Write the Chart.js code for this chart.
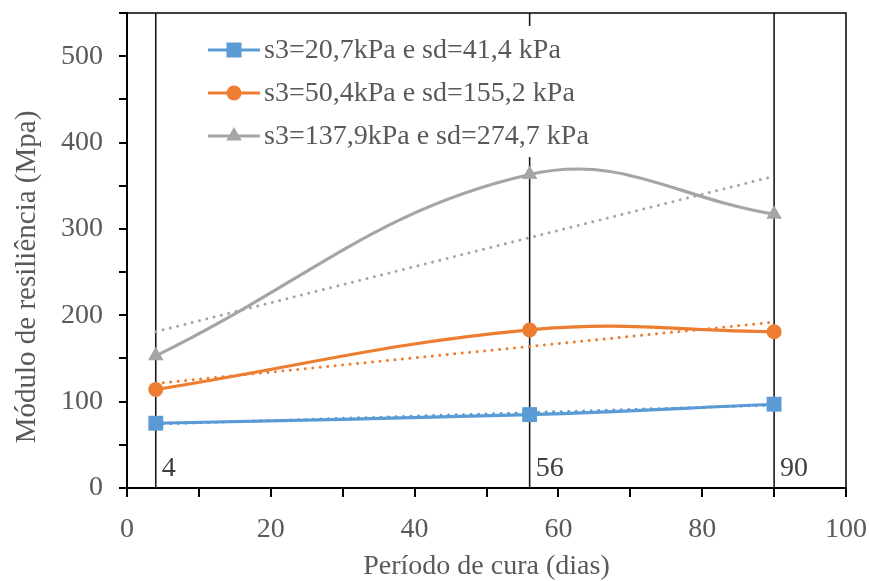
<!DOCTYPE html>
<html>
<head>
<meta charset="utf-8">
<script src="https://cdn.jsdelivr.net/npm/chart.js@4.4.0/dist/chart.umd.min.js"></script>
<style>
html,body{margin:0;padding:0;background:#fff;}
#wrap{width:869px;height:581px;position:relative;}
</style>
</head>
<body>
<div id="wrap"><canvas id="c" width="869" height="581"></canvas></div>
<script>
// ---- data ----
const days = [4, 56, 90];
const seriesLabels = [
  "s3=20,7kPa e sd=41,4 kPa",
  "s3=50,4kPa e sd=155,2 kPa",
  "s3=137,9kPa e sd=274,7 kPa"
];
const mrLow = [75, 85, 97];
const mrMid = [114, 183, 181];
const mrHigh = [153, 363, 317];
// linear trendline end values (at day 4 and day 90)
const trendDays = [4, 90];
const trendLow = [74, 96];
const trendMid = [121, 192];
const trendHigh = [181, 361];
const markerLines = [4, 56, 90];
const xTicks = [0, 20, 40, 60, 80, 100];
const yTicks = [0, 100, 200, 300, 400, 500];

const colors = ["#5B9BD5", "#ED7D31", "#A5A5A5"];
const markers = ["rect", "circle", "triangle"];
const FONT = "'Liberation Serif', 'Times New Roman', serif";
const TXT = "#595959";
const yTitle = "Módulo de resiliência (Mpa)";
const xTitle = "Período de cura (dias)";

function pts(xs, ys){ return xs.map((x,i)=>({x:x, y:ys[i]})); }

const datasets = [];
// vertical reference lines
markerLines.forEach(d=>{
  datasets.push({
    data: [{x:d, y:0}, {x:d, y:550}],
    borderColor: "#1a1a1a", borderWidth: 1.6,
    pointRadius: 0, showLine: true, tension: 0, order: 10
  });
});
// trendlines
[trendLow, trendMid, trendHigh].forEach((t,i)=>{
  datasets.push({
    data: pts(trendDays, t),
    borderColor: colors[i], borderWidth: 3,
    borderDash: [0.01, 7.5], borderCapStyle: "round",
    pointRadius: 0, showLine: true, tension: 0, order: 5
  });
});
// series
[mrLow, mrMid, mrHigh].forEach((s,i)=>{
  datasets.push({
    label: seriesLabels[i],
    data: pts(days, s),
    borderColor: colors[i], backgroundColor: colors[i],
    borderWidth: 3.2, showLine: true, tension: 0.4,
    pointStyle: markers[i],
    pointRadius: i===0 ? 10.5 : (i===1 ? 7.5 : 9),
    pointBorderWidth: 0,
    order: 1
  });
});

const overlay = {
  id: "overlay",
  afterDatasetsDraw(chart){
    const ctx = chart.ctx, a = chart.chartArea;
    const xs = chart.scales.x;
    ctx.save();
    // legend box
    ctx.fillStyle = "#fff";
    ctx.fillRect(196, 26, 430, 131);
    const rows = [50, 93, 136];
    seriesLabels.forEach((lab,i)=>{
      const y = rows[i];
      ctx.strokeStyle = colors[i]; ctx.lineWidth = 3.2;
      ctx.beginPath(); ctx.moveTo(208, y); ctx.lineTo(260, y); ctx.stroke();
      ctx.fillStyle = colors[i];
      const cx = 234;
      if (markers[i]==="rect"){ ctx.fillRect(cx-7.5, y-7.5, 15, 15); }
      else if (markers[i]==="circle"){ ctx.beginPath(); ctx.arc(cx, y, 7.5, 0, Math.PI*2); ctx.fill(); }
      else { const r=9; ctx.beginPath(); ctx.moveTo(cx, y-r); ctx.lineTo(cx+r*0.866, y+r*0.5); ctx.lineTo(cx-r*0.866, y+r*0.5); ctx.closePath(); ctx.fill(); }
      ctx.fillStyle = TXT;
      ctx.font = "28px " + FONT;
      ctx.textBaseline = "middle";
      ctx.fillText(lab, 264, y + 1);
    });
    // top & right border
    ctx.strokeStyle = "#000"; ctx.lineWidth = 1.5;
    ctx.beginPath();
    ctx.moveTo(a.left, a.top); ctx.lineTo(a.right, a.top); ctx.lineTo(a.right, a.bottom);
    ctx.stroke();
    // labels for vertical lines
    ctx.fillStyle = "#404040";
    ctx.font = "28px " + FONT;
    ctx.textBaseline = "alphabetic"; ctx.textAlign = "left";
    markerLines.forEach(d=>{
      ctx.fillText(String(d), xs.getPixelForValue(d) + 6, 476);
    });
    // y axis title
    ctx.translate(27, 277);
    ctx.rotate(-Math.PI/2);
    ctx.fillStyle = TXT;
    ctx.font = "29px " + FONT;
    ctx.textAlign = "center"; ctx.textBaseline = "middle";
    ctx.fillText(yTitle, 0, 0);
    ctx.restore();
  }
};

new Chart(document.getElementById("c"), {
  type: "scatter",
  data: { datasets },
  options: {
    responsive: false, animation: false,
    devicePixelRatio: 1,
    layout: { padding: { top: 13, right: 23, left: 0, bottom: 0 } },
    plugins: { legend: { display: false }, tooltip: { enabled: false } },
    scales: {
      x: {
        type: "linear", min: 0, max: 100,
        afterFit(s){ s.height = 93; s.paddingLeft = 0; s.paddingRight = 0; },
        ticks: { stepSize: 10, padding: 16, color: TXT, font: { family: FONT, size: 28 },
          callback: v => xTicks.includes(v) ? String(v) : "" , maxRotation: 0, autoSkip: false},
        grid: { drawOnChartArea: false, drawTicks: true, tickLength: 9, color: "#000", lineWidth: 2 },
        border: { display: true, color: "#000", width: 2 },
        title: { display: true, text: xTitle, color: TXT, font: { family: FONT, size: 28, lineHeight: 1 }, padding: { top: 0, bottom: 0 } }
      },
      y: {
        type: "linear", min: 0, max: 550,
        afterFit(s){ s.width = 127; s.paddingTop = 0; s.paddingBottom = 0; },
        ticks: { stepSize: 50, padding: 16, color: TXT, font: { family: FONT, size: 28 },
          callback: v => yTicks.includes(v) ? String(v) : "", autoSkip: false },
        grid: { drawOnChartArea: false, drawTicks: true, tickLength: 8, color: "#000", lineWidth: 2 },
        border: { display: true, color: "#000", width: 2 },
        title: { display: false }
      }
    }
  },
  plugins: [overlay]
});
</script>
</body>
</html>
